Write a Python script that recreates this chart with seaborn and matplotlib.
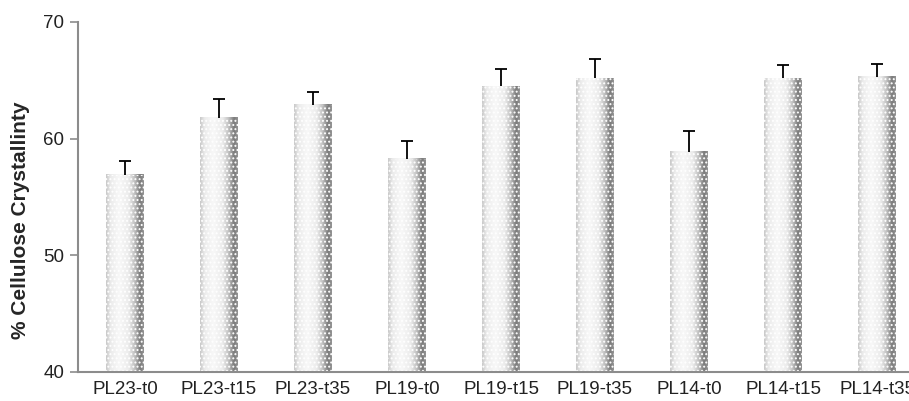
import numpy as np
import pandas as pd
import matplotlib
matplotlib.use("Agg")
import matplotlib.pyplot as plt
from matplotlib.colors import LinearSegmentedColormap
import seaborn as sns

samples = ["PL23-t0", "PL23-t15", "PL23-t35", "PL19-t0", "PL19-t15",
           "PL19-t35", "PL14-t0", "PL14-t15", "PL14-t35"]
crystallinity = [56.9, 61.8, 62.9, 58.3, 64.5, 65.2, 58.9, 65.2, 65.3]
error = [1.2, 1.6, 1.1, 1.5, 1.5, 1.6, 1.8, 1.1, 1.1]

df = pd.DataFrame({"sample": samples, "value": crystallinity})

sns.set_style("white")
plt.rcParams["font.family"] = ["Liberation Sans", "DejaVu Sans"]
plt.rcParams["hatch.color"] = "#a8a8a8"
plt.rcParams["hatch.linewidth"] = 0.9

fig = plt.figure(figsize=(9.09, 4.01), dpi=100)
ax = fig.add_axes([78 / 909, 29 / 401, 846 / 909, 350 / 401])

sns.barplot(data=df, x="sample", y="value", color="#eeeeee", width=0.4,
            errorbar=None, ax=ax)

# cylinder-like shading across each bar
shade = LinearSegmentedColormap.from_list(
    "shade", [(0, "#c8c8c8"), (0.12, "#ececec"), (0.35, "#f8f8f8"),
              (0.6, "#ececec"), (0.76, "#c0c0c0"), (0.9, "#7a7a7a"),
              (1.0, "#959595")])
grad = np.linspace(0, 1, 200).reshape(1, -1)
for p in ax.patches:
    x0, y0 = p.get_x(), p.get_y()
    w, h = p.get_width(), p.get_height()
    ax.imshow(grad, cmap=shade, aspect="auto", extent=[x0, x0 + w, y0, y0 + h],
              zorder=1, interpolation="bicubic")
    p.set_facecolor("none")
    p.set_hatch("....")
    p.set_linewidth(0)
    p.set_zorder(2)

# upper error bars only
xs = np.arange(len(samples))
tops = np.array(crystallinity) + np.array(error)
ax.vlines(xs, crystallinity, tops, color="black", linewidth=1.3, zorder=3)
ax.hlines(tops, xs - 0.06, xs + 0.06, color="black", linewidth=1.3, zorder=3)

ax.set_xlim(-0.5, len(samples) - 0.5)
ax.set_ylim(40, 70)
ax.set_yticks([40, 50, 60, 70])
ax.set_xlabel("")
ax.set_ylabel("% Cellulose Crystallinty", fontsize=15, fontweight="bold")
ax.yaxis.set_label_coords(-0.057, 0.434)

for s in ["top", "right"]:
    ax.spines[s].set_visible(False)
for s in ["left", "bottom"]:
    ax.spines[s].set_color("#8c8c8c")
    ax.spines[s].set_linewidth(1.5)

ax.tick_params(axis="y", left=True, length=6, width=1.2, color="#8c8c8c",
               labelsize=13.5, labelcolor="#222222", pad=4)
ax.tick_params(axis="x", bottom=False, labelsize=13.5, labelcolor="#222222", pad=3)

fig.savefig("out.png", dpi=100)
